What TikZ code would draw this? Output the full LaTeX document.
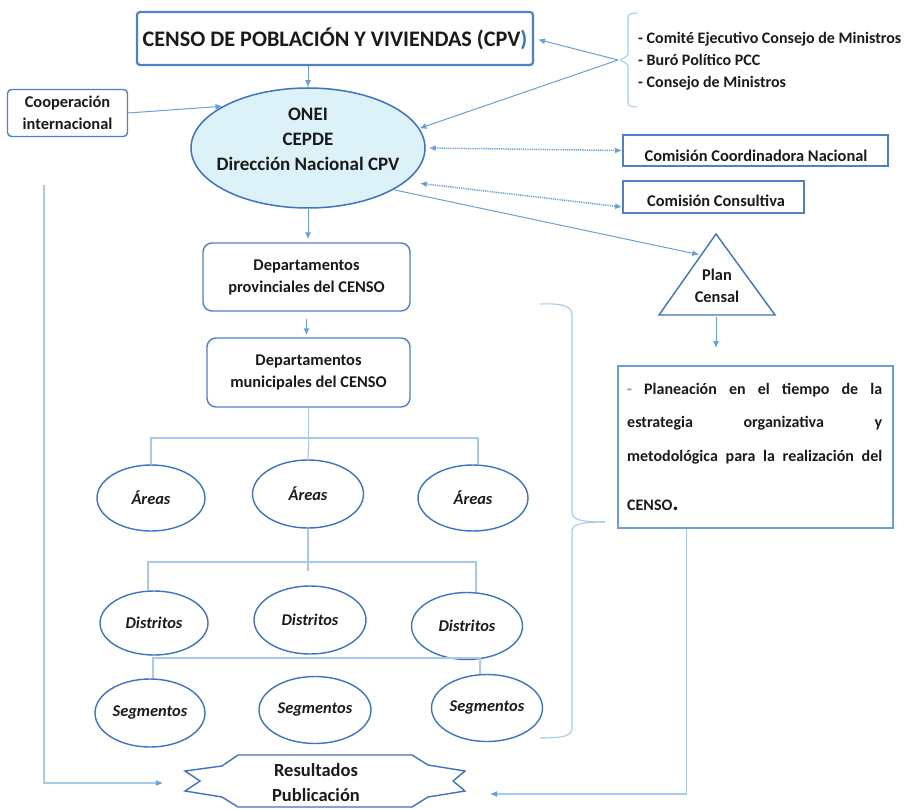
\documentclass[tikz,border=0pt]{standalone}
\usepackage{fontspec}
\setmainfont{Carlito}
\usetikzlibrary{arrows.meta,shapes.geometric,calc}
\definecolor{boxblue}{HTML}{4F7FC6}
\definecolor{ellline}{HTML}{3F72C2}
\definecolor{ellfill}{HTML}{DCF2F8}
\definecolor{arrc}{HTML}{6A9FD8}
\definecolor{lightc}{HTML}{A8C9EA}
\definecolor{titleblue}{HTML}{2E75B6}
\definecolor{ink}{HTML}{1A1A1A}
\begin{document}
\begin{tikzpicture}[x=1pt,y=1pt,
 txt/.style={font=\fontsize{16.4}{22}\selectfont\bfseries, text=ink, align=center, inner sep=0pt},
 ittxt/.style={font=\fontsize{16.4}{20}\selectfont\bfseries\itshape, text=ink},
 rbox/.style={draw=boxblue, line width=1.4pt, rounded corners=9pt, inner sep=0pt},
 sbox/.style={draw=boxblue, line width=1.8pt, inner sep=0pt},
 oval/.style={ellipse, draw=ellline, line width=1.4pt, inner sep=0pt, ittxt},
 arr/.style={draw=arrc, line width=1pt, -{Latex[length=7pt,width=6pt]}},
 larr/.style={draw=lightc, line width=1.1pt, -{Latex[length=7pt,width=6pt,color=arrc]}},
 darr/.style={draw=arrc, line width=1.5pt, dash pattern=on 1.2pt off 1pt, {Latex[length=7pt,width=6pt]}-{Latex[length=7pt,width=6pt]}},
 tline/.style={draw=lightc, line width=1.1pt},
 brace/.style={draw=lightc, line width=1.1pt},
]
\useasboundingbox (0,0) rectangle (912,-810);

% title
\node[sbox, line width=2.2pt, rounded corners=3pt, minimum width=396pt, minimum height=53pt,
      font=\fontsize{22.2}{26}\selectfont\bfseries, text=ink] (title) at (335,-38.5)
      {CENSO DE POBLACIÓN Y VIVIENDAS (CPV\textcolor{titleblue}{)}};

% cooperacion
\node[rbox, rounded corners=4pt, minimum width=120pt, minimum height=47pt, txt] (coop) at (67.5,-113)
      {Cooperación\\internacional};

% ONEI ellipse
\node[ellipse, draw=ellline, fill=ellfill, line width=1.5pt, minimum width=234pt, minimum height=120pt, inner sep=0pt] (onei) at (308,-148) {};
\node[txt, font=\fontsize{19}{25}\selectfont\bfseries] (oneitxt) at (308,-139) {ONEI\\CEPDE\\Dirección Nacional CPV};

% comite list with brace
\node[txt, align=left, anchor=west, font=\fontsize{16}{22}\selectfont\bfseries] (comite) at (638,-61)
      {- Comité Ejecutivo Consejo de Ministros\\- Buró Político PCC\\- Consejo de Ministros};
\draw[brace, rounded corners=3pt] (637,-13) -- (628,-14) -- (628,-56) -- (619,-60) -- (628,-64) -- (628,-106) -- (637,-107);
\coordinate (cbr) at (618,-60);
\draw[arr, shorten >=4pt] (cbr) -- (title.east);
\draw[arr] (cbr) -- (onei.10);

% comisiones
\node[sbox, minimum width=265pt, minimum height=31pt] (ccn) at (755.5,-150.5) {};
\node[txt] (ccntxt) at (756,-156) {Comisión Coordinadora Nacional};
\node[sbox, minimum width=181pt, minimum height=32pt] (ccons) at (713.5,-197) {};
\node[txt] (ccontxt) at (716,-201) {Comisión Consultiva};
\draw[darr, shorten <=3pt] (onei.east) -- (ccn.west);
\draw[darr, shorten <=14pt] (onei.-19) -- ($(ccons.west)+(0,-10)$);

% plan censal triangle
\coordinate (pA) at (716,-234);
\coordinate (pL) at (659,-315);
\coordinate (pR) at (775,-315);
\coordinate (pB) at (716,-315);
\draw[draw=ellline, line width=1.4pt] (pA) -- (pR) -- (pL) -- cycle;
\node[txt] (plantx) at (717,-286) {Plan\\Censal};
\draw[arr, shorten >=2pt] (onei.-26) -- ($(pA)!0.26!(pL)$);
\draw[arr, shorten <=2pt] (pB) -- ++(0,-33);

% planeacion box
\node[draw=arrc, line width=1.4pt, minimum width=275pt, minimum height=162pt, inner sep=0pt] (planbox) at (755.5,-447) {};
\node[anchor=north west, inner sep=0pt, align=left, text=ink, font=\fontsize{16}{33.5}\selectfont\bfseries] (plantxt) at (627,-383)
  {\makebox[255pt][s]{\textcolor{arrc}{-} Planeación en el tiempo de la}\\
   \makebox[255pt][s]{estrategia organizativa y}\\
   \makebox[255pt][s]{metodológica para la realización del}\\[15.5pt]
   CENSO{\fontsize{24}{24}\selectfont.}};

% departamentos
\node[rbox, minimum width=207pt, minimum height=68pt, txt] (prov) at (306.5,-277) {Departamentos\\provinciales del CENSO};
\node[rbox, minimum width=203pt, minimum height=69pt, txt] (muni) at (308.5,-372.5) {Departamentos\\municipales del CENSO};

\draw[arr] (title.south -| onei.north) -- (onei.north);
\draw[arr] (coop.east) -- (onei.154);
\draw[arr, shorten >=3pt] (onei.south) -- (onei.south |- prov.north);
\draw[arr, shorten <=7pt, shorten >=2pt] (prov.south) -- (prov.south |- muni.north);

% areas
\node[oval, minimum width=108pt, minimum height=66pt] (a1) at (151,-498) {Áreas};
\node[oval, minimum width=111pt, minimum height=68pt] (a2) at (308,-494) {Áreas};
\node[oval, minimum width=110pt, minimum height=66pt] (a3) at (473,-498) {Áreas};
% distritos
\node[oval, minimum width=108pt, minimum height=64pt] (d1) at (154,-623) {Distritos};
\node[oval, minimum width=112pt, minimum height=68pt] (d2) at (310,-620) {Distritos};
\node[oval, minimum width=111pt, minimum height=67pt] (d3) at (467,-626) {Distritos};
% segmentos
\node[oval, minimum width=110pt, minimum height=68pt] (s1) at (150,-713) {Segmentos};
\node[oval, minimum width=112pt, minimum height=67pt] (s2) at (315,-710) {Segmentos};
\node[oval, minimum width=111pt, minimum height=67pt] (s3) at (487,-708) {Segmentos};

% tree lines
\coordinate (hA) at (309,-438);
\draw[tline] (muni.south) -- (muni.south |- hA);
\draw[tline] (a1.north) |- (hA) -| ($(a3.north)+(5,0)$);
\draw[tline] (hA) -- (a2.north);
\coordinate (hB) at (309,-562);
\draw[tline] (a2.south) -- ++(0,-42);
\draw[tline] ($(d1.north)+(-6,0)$) |- (hB) -| ($(d3.north)+(9,0)$);
\coordinate (hC) at (309,-658);
\draw[tline] ($(s1.north)+(3,0)$) |- (hC) -| ($(s3.north)+(-7,0)$);

% big brace
\draw[brace] (540,-304) .. controls (566,-303) and (572,-307) .. (572,-316) -- (572,-512)
  .. controls (572,-519) and (578,-522) .. (605,-522);
\draw[brace] (605,-522) .. controls (578,-522) and (572,-525) .. (572,-532) -- (572,-728)
  .. controls (572,-735) and (566,-738) .. (540,-738);

% resultados
\draw[draw=ellline, line width=1.4pt] (185,-771) -- (222,-766) -- (238,-755) -- (412,-755) -- (428,-765) -- (465,-771)
  -- (453,-781) -- (465,-791) -- (428,-797) -- (412,-807) -- (238,-807) -- (222,-797) -- (185,-791) -- (200,-781) -- cycle;
\node[txt, font=\fontsize{18.5}{25}\selectfont\bfseries] (res) at (316,-782.5) {Resultados\\Publicación};
\coordinate (ltop) at (44,-185);
\coordinate (resin1) at (163,-783);
\coordinate (resin2) at (490,-794);
\draw[larr] (ltop) |- (resin1);
\draw[larr] ($(planbox.south west)+(69,0)$) |- (resin2);
\end{tikzpicture}
\end{document}
